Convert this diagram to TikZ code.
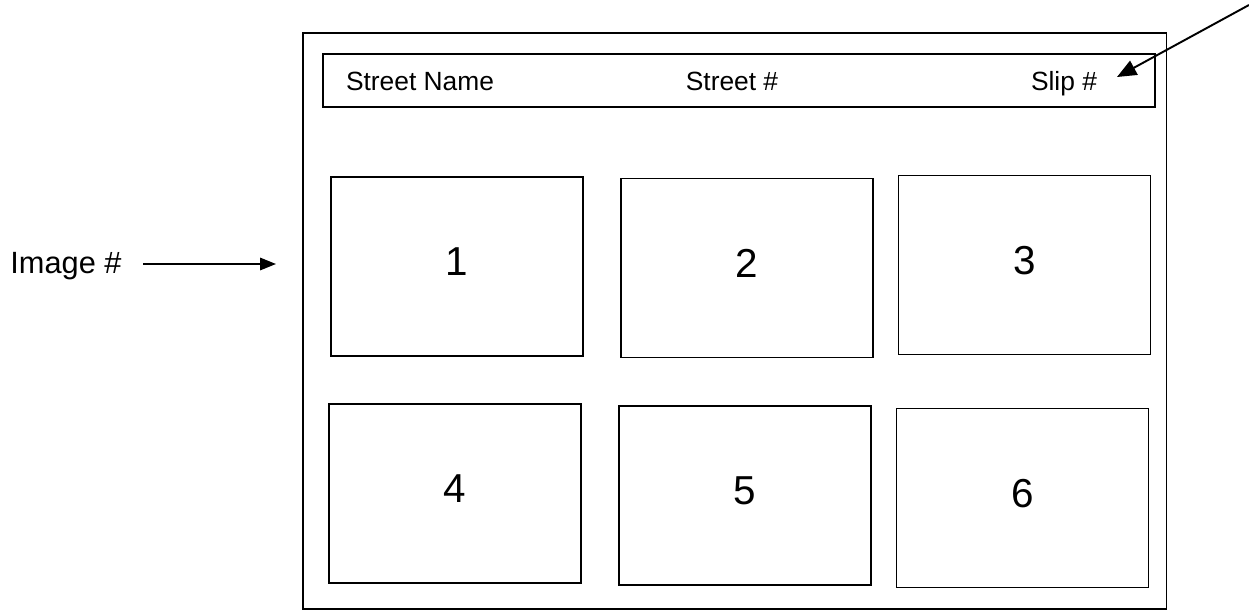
\documentclass[tikz,border=0pt]{standalone}
\usepackage{fontspec}
\setmainfont{Liberation Sans}
\usetikzlibrary{arrows.meta}

\begin{document}
\begin{tikzpicture}[
  x=0.02cm, y=-0.02cm,
  sheet/.style={rectangle, draw=black, line width=1.1pt,
                minimum width=17.28cm, minimum height=11.52cm},
  header/.style={rectangle, draw=black, line width=1.1pt,
                 minimum width=16.65cm, minimum height=1.06cm},
  field/.style={font=\fontsize{15}{18}\selectfont, inner sep=0pt, anchor=base},
  imgbox/.style={rectangle, draw=black, line width=1.1pt,
                 minimum width=5.04cm, minimum height=3.58cm,
                 font=\fontsize{23}{27}\selectfont, text depth=5.7pt},
  arr/.style={-{Triangle[length=9pt,width=7pt]}, line width=1.1pt},
  bigarr/.style={-{Triangle[length=11pt,width=9pt]}, line width=1.1pt},
]
\useasboundingbox (0,0) rectangle (1249,613);

%% OUTER SHEET + HEADER
\node[sheet]  (sheet)  at (734.6,320.7) {};
\node[header] (header) at (738.9,80.9)  {};
\node[field]  (stname) at (420,90.5)  {Street Name};
\node[field]  (stnum)  at (732,90.5)  {Street \#};
\node[field]  (slipno) at (1064,90.5) {Slip \#};

%% --- TOP ROW ---
\node[imgbox] (img1) at (456.7,266.5) {1};
\node[imgbox] (img2) at (746.7,268)   {2};
\node[imgbox] (img3) at (1024.5,265)  {3};

%% --- BOTTOM ROW ---
\node[imgbox] (img4) at (454.8,493.8) {4};
\node[imgbox] (img5) at (744.8,495.7) {5};
\node[imgbox] (img6) at (1022.5,498)  {6};

%% Image label on the left
\node[field, font=\fontsize{17.5}{21}\selectfont] (imglbl) at (66,273) {Image \#};

%% Arrows
\coordinate (imgfrom)  at (143,264);
\coordinate (imgto)    at (276,264);
\coordinate (slipfrom) at (1249,5);
\coordinate (slipto)   at (1117,77);
\draw[arr]    (imgfrom)  -- (imgto);
\draw[bigarr] (slipfrom) -- (slipto);

\end{tikzpicture}
\end{document}
